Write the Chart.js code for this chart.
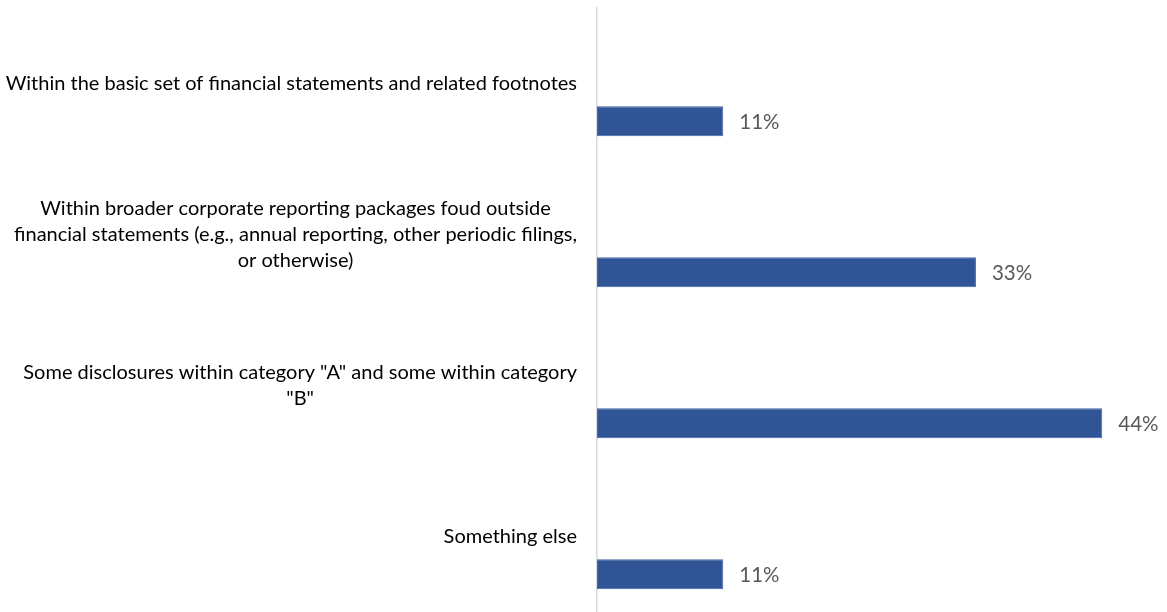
<!DOCTYPE html>
<html>
<head>
<meta charset="utf-8">
<script src="https://cdn.jsdelivr.net/npm/chart.js@4/dist/chart.umd.min.js"></script>
<style>
  html, body { margin: 0; padding: 0; background: #ffffff; }
  #wrap { width: 1167px; height: 612px; position: relative; }
</style>
</head>
<body>
<div id="wrap"><canvas id="c"></canvas></div>
<script>
// ---- data ----
const categories = [
  ["Within the basic set of financial statements and related footnotes"],
  ["Within broader corporate reporting packages foud outside",
   "financial statements (e.g., annual reporting, other periodic filings,",
   "or otherwise)"],
  ["Some disclosures within category \"A\" and some within category",
   "\"B\""],
  ["Something else"]
];
const shareValues = [11.1, 33.3, 44.4, 11.1];
const spacerValues = [null, null, null, null];
const axisMax = 50;

const LABEL_FONT = '20px Lato';
const VALUE_FONT = '20.5px Lato';

const categoryLabelPlugin = {
  id: 'categoryLabels',
  afterDraw(chart) {
    const ctx = chart.ctx;
    const yScale = chart.scales.y;
    const rightEdge = yScale.right - 20;
    const lineH = 26;
    ctx.save();
    ctx.font = LABEL_FONT;
    ctx.fillStyle = '#000000';
    ctx.textAlign = 'center';
    ctx.textBaseline = 'middle';
    categories.forEach((lines, i) => {
      const yc = yScale.getPixelForValue(i);
      let w = 0;
      lines.forEach(l => { w = Math.max(w, ctx.measureText(l).width); });
      const cx = rightEdge - w / 2;
      const top = yc - (lines.length - 1) * lineH / 2;
      lines.forEach((l, k) => ctx.fillText(l, cx, top + k * lineH));
    });
    ctx.restore();
  }
};

const valueLabelPlugin = {
  id: 'valueLabels',
  afterDatasetsDraw(chart) {
    const ctx = chart.ctx;
    const meta = chart.getDatasetMeta(1);
    ctx.save();
    ctx.font = VALUE_FONT;
    ctx.fillStyle = '#595959';
    ctx.textAlign = 'left';
    ctx.textBaseline = 'middle';
    meta.data.forEach((bar, i) => {
      const v = shareValues[i];
      if (v == null) return;
      ctx.fillText(Math.round(v) + '%', bar.x + 16, bar.y + 1);
    });
    ctx.restore();
  }
};

new Chart(document.getElementById('c'), {
  type: 'bar',
  data: {
    labels: categories,
    datasets: [
      { label: 'spacer', data: spacerValues, backgroundColor: 'rgba(0,0,0,0)' },
      { label: 'Share', data: shareValues, backgroundColor: '#2F5597',
        borderColor: '#4468A8', borderWidth: 1, borderSkipped: false }
    ]
  },
  options: {
    indexAxis: 'y',
    responsive: true,
    maintainAspectRatio: false,
    animation: false,
    layout: { padding: { top: 8, bottom: 0, left: 0, right: 1 } },
    datasets: { bar: { categoryPercentage: 1.0, barPercentage: 0.397 } },
    plugins: { legend: { display: false }, tooltip: { enabled: false } },
    scales: {
      x: { display: false, min: 0, max: axisMax },
      y: {
        display: true,
        grid: { display: false, drawTicks: false },
        ticks: { display: false },
        border: { display: true, color: '#D9D9D9', width: 1.5 },
        afterFit(scale) { scale.width = 597; }
      }
    }
  },
  plugins: [categoryLabelPlugin, valueLabelPlugin]
});
</script>
</body>
</html>
